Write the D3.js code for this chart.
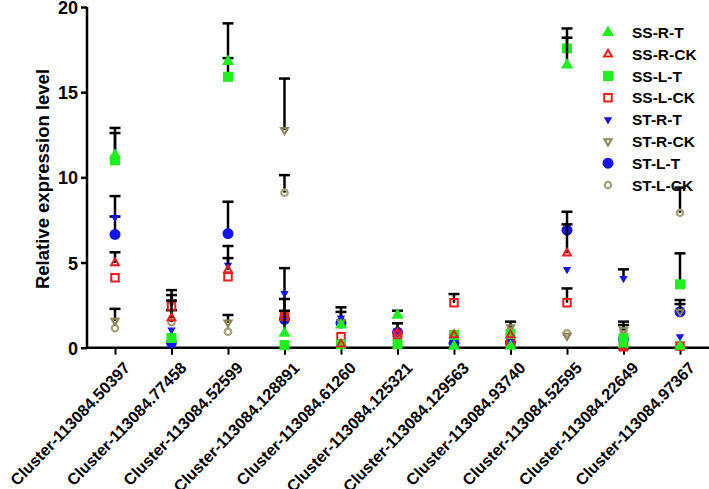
<!DOCTYPE html>
<html><head><meta charset="utf-8">
<script src="https://cdn.jsdelivr.net/npm/d3@7/dist/d3.min.js"></script>
<style>body{margin:0;background:#fff}svg{display:block;font-family:"Liberation Sans",Arial,sans-serif}</style>
</head><body><svg id="c" width="709" height="489"></svg>
<script>
const categories = ["Cluster-113084.50397","Cluster-113084.77458","Cluster-113084.52599","Cluster-113084.128891","Cluster-113084.61260","Cluster-113084.125321","Cluster-113084.129563","Cluster-113084.93740","Cluster-113084.52595","Cluster-113084.22649","Cluster-113084.97367"];
const seriesNames = ["SS-R-T","SS-R-CK","SS-L-T","SS-L-CK","ST-R-T","ST-R-CK","ST-L-T","ST-L-CK"];
const yTicks = [0,5,10,15,20];
// means
const ssRT  = [11.3, 0.5, 16.8, 0.85, 1.33, 1.9, 0.08, 0.08, 16.6, 0.2, 0.08];
const ssRCK = [4.97, 1.74, 4.56, 1.92, 0.2, 0.85, 0.75, 0.75, 5.54, 0.05, 0.08];
const ssLT  = [11.0, 0.57, 15.9, 0.16, 0.2, 0.2, 0.75, 0.8, 17.57, 0.55, 3.72];
const ssLCK = [4.1, 2.45, 4.17, 1.85, 0.65, 0.75, 2.64, 0.4, 2.64, 0.05, 0.1];
const stRT  = [7.65, 1.04, 4.85, 3.19, 1.75, 0.98, 0.2, 0.3, 4.6, 4.07, 0.65];
const stRCK = [1.58, 2.67, 1.47, 12.78, 1.5, 0.7, 0.8, 1.2, 0.7, 1.04, 2.11];
const stLT  = [6.65, 0.3, 6.7, 1.67, 1.45, 0.9, 0.26, 0.3, 6.9, 0.5, 2.11];
const stLCK = [1.15, 1.5, 0.94, 9.1, 1.53, 0.8, 0.7, 1.0, 0.85, 1.0, 7.92];
// upper error (SD)
const ssRTerr  = [1.6, 0, 2.24, 1.32, 0, 0.27, 0, 0, 2.14, 0, 0];
const ssRCKerr = [0.63, 1.02, 0.7, 0.94, 0, 0, 0, 0, 1.7, 0, 0];
const ssLTerr  = [1.6, 0, 1.1, 0, 0, 0, 0, 0, 0.63, 0, 1.82];
const ssLCKerr = [0, 0.64, 0, 0, 0, 0, 0.51, 0, 0.84, 0, 0];
const stRTerr  = [1.25, 0, 1.12, 0, 0.62, 0.45, 0, 0, 0, 0.53, 0];
const stRCKerr = [0.7, 0.71, 0.45, 3.02, 0, 0, 0, 0.33, 0, 0.49, 0.45];
const stLTerr  = [1.05, 0, 1.87, 3.0, 0, 0, 0, 0, 1.08, 0, 0.69];
const stLCKerr = [0, 0.7, 0, 1.03, 0.57, 0, 0, 0, 0, 0.33, 1.48];

const means = [ssRT, ssRCK, ssLT, ssLCK, stRT, stRCK, stLT, stLCK];
const errs = [ssRTerr, ssRCKerr, ssLTerr, ssLCKerr, stRTerr, stRCKerr, stLTerr, stLCKerr];
const styles = [
  {sym:d3.symbolTriangle, size:64, fill:"#1ef01e", stroke:"none", rot:0},
  {sym:d3.symbolTriangle, size:26, fill:"none", stroke:"#ee1c1c", sw:2, rot:0},
  {sym:d3.symbolSquare, size:100, fill:"#1ef01e", stroke:"none", rot:0},
  {sym:d3.symbolSquare, size:56, fill:"none", stroke:"#ee1c1c", sw:2, rot:0},
  {sym:d3.symbolTriangle, size:30, fill:"#1414f0", stroke:"none", rot:180},
  {sym:d3.symbolTriangle, size:22, fill:"none", stroke:"#8c8456", sw:2, rot:180},
  {sym:d3.symbolCircle, size:95, fill:"#1414f0", stroke:"none", rot:0},
  {sym:d3.symbolCircle, size:32, fill:"none", stroke:"#aba27c", sw:2.3, rot:0}
];

const svg = d3.select("#c");
const x = d3.scalePoint().domain(categories).range([115, 680]);
const y = d3.scaleLinear().domain([0,20]).range([347.7, 7]);

// axes
const yAx = svg.append("g").attr("transform","translate(87,0)")
  .call(d3.axisLeft(y).tickValues(yTicks).tickSize(6).tickPadding(3).tickFormat(d3.format("d")));
yAx.select(".domain").attr("stroke","#000").attr("stroke-width",2.5).attr("d","M0,"+y(20)+"V"+y(0));
yAx.selectAll(".tick line").attr("stroke-width",2.5);
yAx.selectAll("text").attr("font-size",18).attr("font-weight","bold").attr("fill","#000")
  .attr("font-family","Liberation Sans, Arial, sans-serif").attr("dy","0.36em");

const xAx = svg.append("g").attr("transform","translate(0,"+y(0)+")")
  .call(d3.axisBottom(x).tickSize(7).tickPadding(2));
xAx.select(".domain").attr("stroke-width",2.5).attr("d","M86,0H709");
xAx.selectAll(".tick line").attr("stroke-width",2);
xAx.selectAll("text").attr("font-size",16.2).attr("font-weight","bold").attr("fill","#000")
  .attr("font-family","Liberation Sans, Arial, sans-serif")
  .attr("text-anchor","end").attr("dy","0.35em")
  .attr("transform","translate(5,11) rotate(-46)");

svg.append("text").attr("transform","translate(49,179) rotate(-90)")
  .attr("text-anchor","middle").attr("font-size",18.5).attr("font-weight","bold")
  .text("Relative expression level");

// data marks: draw in reverse legend order so first series on top
const cap = 5.5;
for (let s = means.length - 1; s >= 0; s--) {
  const g = svg.append("g");
  const st = styles[s];
  categories.forEach((c, i) => {
    const m = means[s][i], e = errs[s][i], cx = x(c);
    if (e > 0) {
      g.append("line").attr("x1",cx).attr("x2",cx).attr("y1",y(m)).attr("y2",y(m+e))
        .attr("stroke","#000").attr("stroke-width",2.5);
      g.append("line").attr("x1",cx-cap).attr("x2",cx+cap).attr("y1",y(m+e)).attr("y2",y(m+e))
        .attr("stroke","#000").attr("stroke-width",2.5);
    }
    g.append("path").attr("d", d3.symbol().type(st.sym).size(st.size)())
      .attr("transform","translate("+cx+","+y(m)+") rotate("+st.rot+")")
      .attr("fill",st.fill).attr("stroke",st.stroke).attr("stroke-width",st.sw||0);
  });
}

// legend
const legY = d3.scaleLinear().domain([0,7]).range([32.5, 185]);
seriesNames.forEach((n, i) => {
  const st = styles[i];
  svg.append("path").attr("d", d3.symbol().type(st.sym).size(st.size)())
    .attr("transform","translate(608,"+legY(i)+") rotate("+st.rot+")")
    .attr("fill",st.fill).attr("stroke",st.stroke).attr("stroke-width",st.sw||0);
  svg.append("text").attr("x",632).attr("y",legY(i)).attr("dy","0.36em")
    .attr("font-size",15.5).attr("font-weight","bold").text(n);
});
</script></body></html>
